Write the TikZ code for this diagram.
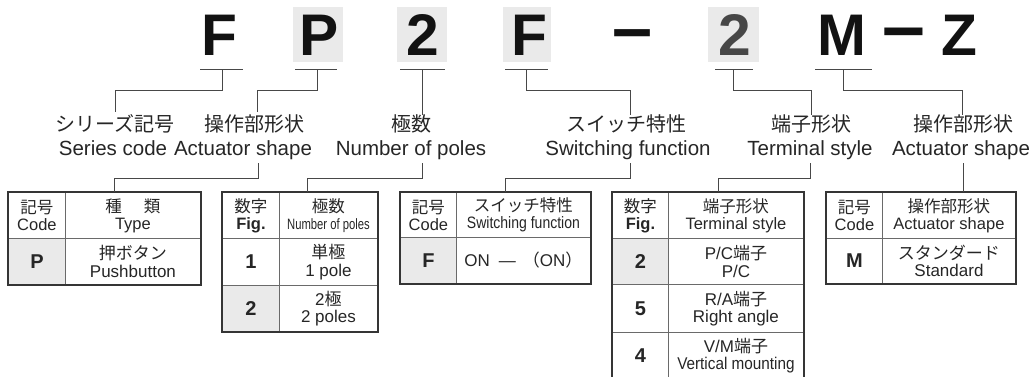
\documentclass[tikz,border=0pt]{standalone}
\usepackage{fontspec}
\usepackage{graphicx}
\setmainfont{Liberation Sans}
\newfontfamily\jp{Noto Sans CJK JP}
\definecolor{lc}{HTML}{6A6A6A}
\definecolor{bc}{HTML}{353535}
\definecolor{tc}{HTML}{262626}
\definecolor{gf}{HTML}{EAEAEA}
\definecolor{cc}{HTML}{484848}
\newcommand{\codef}{\fontsize{20}{21}\selectfont\bfseries}
\begin{document}
\begin{tikzpicture}[x=1pt,y=-1pt,
  big/.style={font=\fontsize{58.7}{60}\selectfont\bfseries, text=black!93, anchor=base, inner sep=0pt},
  dashf/.style={big, font=\fontsize{#1}{#1}\selectfont\bfseries},
  jpl/.style={font=\jp\fontsize{20}{21}\selectfont, anchor=base, inner sep=0pt, text=tc},
  enl/.style={font=\fontsize{20.5}{22}\selectfont, anchor=base, inner sep=0pt, text=tc},
  uline/.style={draw=cc, line width=0.9pt},
  conn/.style={draw=cc, line width=0.9pt},
  cell/.style={draw=lc, line width=0.9pt, inner sep=0pt, anchor=north west, align=center, text=tc, font=\fontsize{16.5}{17}\selectfont},
  rcell/.style={cell, font=\fontsize{17}{17.5}\selectfont},
  gcell/.style={fill=gf},
  outer/.style={draw=bc, line width=1.3pt}
]
\useasboundingbox (0,0) rectangle (1035,376);
\fill[white] (0,0) rectangle (1035,376);

% grey backgrounds behind highlighted letters
\fill[gf] (293,7) rectangle (343,62);
\fill[gf] (397,7) rectangle (447,62);
\fill[gf] (503,7) rectangle (551,62);
\fill[gf] (708,7) rectangle (759,62);

% model code letters
\node[big] (lF) at (219,55) {F};
\node[big] (lP) at (319,55) {P};
\node[big] (l2) at (423,55) {2};
\node[big] (lF2) at (529.5,55) {F};
\node[dashf=72] (ld1) at (632.5,52) {–};
\node[big, text=black!72] (l22) at (734.5,55) {2};
\node[big] (lM) at (842,55) {M};
\node[dashf=77] (ld2) at (903.5,52) {–};
\node[big] (lZ) at (959,55) {Z};

% underline coordinates
\coordinate (uF) at (222,69);
\coordinate (uP) at (317,69);
\coordinate (u2) at (422,69);
\coordinate (uF2) at (526,69);
\coordinate (u22) at (733,69);
\coordinate (uM) at (843,69);
\draw[uline] ([xshift=-22]uF) -- ([xshift=21]uF);
\draw[uline] ([xshift=-22]uP) -- ([xshift=20]uP);
\draw[uline] ([xshift=-22]u2) -- ([xshift=23]u2);
\draw[uline] ([xshift=-21]uF2) -- ([xshift=22]uF2);
\draw[uline] ([xshift=-18]u22) -- ([xshift=20]u22);
\draw[uline] ([xshift=-28]uM) -- ([xshift=29]uM);

% labels
\node[jpl] (j1) at (115,131.5) {シリーズ記号};
\node[enl] (e1) at (113,155) {Series code};
\node[jpl] (j2) at (254,131.5) {操作部形状};
\node[enl] (e2) at (243,155) {Actuator shape};
\node[jpl] (j3) at (411,131.5) {極数};
\node[enl] (e3) at (411,155) {Number of poles};
\node[jpl] (j4) at (626,131.5) {スイッチ特性};
\node[enl] (e4) at (628,155) {Switching function};
\node[jpl] (j5) at (811,131.5) {端子形状};
\node[enl] (e5) at (810,155) {Terminal style};
\node[jpl] (j6) at (963,131.5) {操作部形状};
\node[enl] (e6) at (961,155) {Actuator shape};

% label attach points
\coordinate (a1) at (115,112);
\coordinate (a2) at (257,112);
\coordinate (a3) at (422,115);
\coordinate (a4) at (630,115);
\coordinate (a5) at (811,115);
\coordinate (a6) at (962,115);
\draw[conn] (uF) -- ++(0,21) -| (a1);
\draw[conn] (uP) -- ++(0,21) -| (a2);
\draw[conn] (u2) -- (a3);
\draw[conn] (uF2) -- ++(0,21) -| (a4);
\draw[conn] (u22) -- ++(0,21) -| (a5);
\draw[conn] (uM) -- ++(0,21) -| (a6);

% tables
% T1
\node[cell, minimum width=57, minimum height=46] (t1a) at (8,192) {{\jp 記号}\\Code};
\node[cell, minimum width=135, minimum height=46] (t1b) at (65,192) {{\jp 種\hspace{22pt}類}\\Type};
\node[rcell, gcell, minimum width=57, minimum height=46] (t1c) at (8,238) {\codef P};
\node[rcell, minimum width=135, minimum height=46] (t1d) at (65,238) {{\jp 押ボタン}\\Pushbutton};
\draw[outer] (t1a.north west) rectangle (t1d.south east);

% T2
\node[cell, minimum width=57, minimum height=46] (t2a) at (222,192) {{\jp 数字}\\\textbf{Fig.}};
\node[cell, minimum width=98, minimum height=46] (t2b) at (279,192) {{\jp 極数}\\{\fontsize{15}{17}\selectfont\scalebox{0.75}[1]{Number of poles}}};
\node[rcell, minimum width=57, minimum height=47] (t2c) at (222,238) {\codef 1};
\node[rcell, minimum width=98, minimum height=47] (t2d) at (279,238) {{\jp 単極}\\1 pole};
\node[rcell, gcell, minimum width=57, minimum height=46] (t2e) at (222,285) {\codef 2};
\node[rcell, minimum width=98, minimum height=46] (t2f) at (279,285) {2{\jp 極}\\2 poles};
\draw[outer] (t2a.north west) rectangle (t2f.south east);

% T3
\node[cell, minimum width=56, minimum height=45] (t3a) at (400,192) {{\jp 記号}\\Code};
\node[cell, minimum width=134, minimum height=45] (t3b) at (456,192) {{\jp スイッチ特性}\\\scalebox{0.85}[1]{Switching function}};
\node[rcell, gcell, minimum width=56, minimum height=46] (t3c) at (400,237) {\codef F};
\node[rcell, minimum width=134, minimum height=46] (t3d) at (456,237) {ON\hspace{9pt}—\hspace{7pt}{\jp （}ON{\jp ）}};
\draw[outer] (t3a.north west) rectangle (t3d.south east);

% T4
\node[cell, minimum width=56, minimum height=46] (t4a) at (612,192) {{\jp 数字}\\\textbf{Fig.}};
\node[cell, minimum width=135, minimum height=46] (t4b) at (668,192) {{\jp 端子形状}\\Terminal style};
\node[rcell, gcell, minimum width=56, minimum height=46] (t4c) at (612,238) {\codef 2};
\node[rcell, minimum width=135, minimum height=46] (t4d) at (668,238) {P/C{\jp 端子}\\P/C};
\node[rcell, minimum width=56, minimum height=48] (t4e) at (612,284) {\codef 5};
\node[rcell, minimum width=135, minimum height=48] (t4f) at (668,284) {R/A{\jp 端子}\\Right angle};
\node[rcell, minimum width=56, minimum height=46] (t4g) at (612,332) {\codef 4};
\node[rcell, minimum width=135, minimum height=46] (t4h) at (668,332) {V/M{\jp 端子}\\\scalebox{0.9}[1]{Vertical mounting}};
\draw[outer] (t4a.north west) rectangle (t4h.south east);

% T5
\node[cell, minimum width=56, minimum height=46] (t5a) at (826,192) {{\jp 記号}\\Code};
\node[cell, minimum width=133, minimum height=46] (t5b) at (882,192) {{\jp 操作部形状}\\Actuator shape};
\node[rcell, minimum width=56, minimum height=45] (t5c) at (826,238) {\codef M};
\node[rcell, minimum width=133, minimum height=45] (t5d) at (882,238) {{\jp スタンダード}\\Standard};
\draw[outer] (t5a.north west) rectangle (t5d.south east);

% label -> table connectors
\coordinate (b1) at (258,163);
\coordinate (b2) at (422,163);
\coordinate (b3) at (630,163);
\coordinate (b4) at (810,163);
\coordinate (b5) at (963,163);
\coordinate (p1) at (114,192);
\coordinate (p2) at (307,192);
\coordinate (p3) at (505,192);
\coordinate (p4) at (718,192);
\coordinate (p5) at (963,192);
\draw[conn] (b1) -- ++(0,15) -| (p1);
\draw[conn] (b2) -- ++(0,15) -| (p2);
\draw[conn] (b3) -- ++(0,15) -| (p3);
\draw[conn] (b4) -- ++(0,15) -| (p4);
\draw[conn] (b5) -- (p5);
\end{tikzpicture}
\end{document}
